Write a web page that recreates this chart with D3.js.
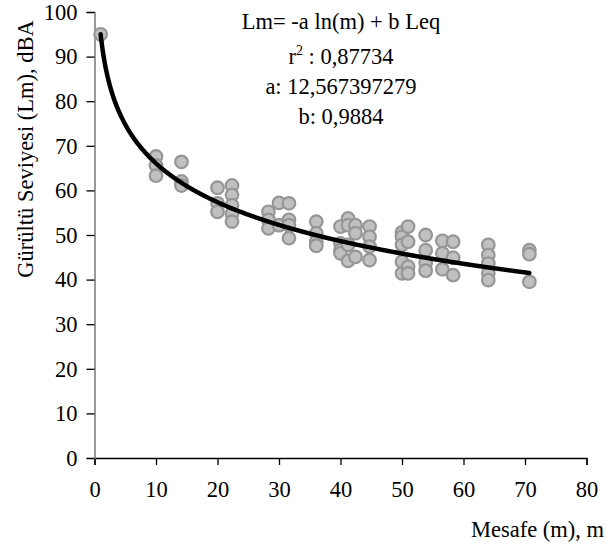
<!DOCTYPE html>
<html>
<head>
<meta charset="utf-8">
<script src="https://cdn.jsdelivr.net/npm/d3@7"></script>
<style>
  body { margin: 0; background: #fff; }
  text { font-family: "Liberation Serif", "Times New Roman", serif; fill: #000; }
</style>
</head>
<body>
<div id="canvas"></div>
<script>
"use strict";

/* Data: distance (m) and level (dBA) */
let distances = [1, 10, 10, 10, 14.14, 14.14, 14.14,
  20, 20, 20, 22.36, 22.36, 22.36, 22.36, 22.36,
  28.28, 28.28, 28.28, 30, 30, 31.62, 31.62, 31.62, 31.62,
  36.06, 36.06, 36.06, 36.06,
  40, 40, 40, 40, 41.23, 41.23, 41.23, 41.23,
  42.43, 42.43, 42.43, 44.72, 44.72, 44.72, 44.72,
  50, 50, 50, 50, 50, 50.99, 50.99, 50.99, 50.99,
  53.85, 53.85, 53.85, 53.85, 56.57, 56.57, 56.57,
  58.31, 58.31, 58.31, 64.03, 64.03, 64.03, 64.03, 64.03,
  70.71, 70.71, 70.71];
let levels = [95, 67.6, 65.6, 63.3, 66.4, 62.0, 61.1,
  60.6, 57.1, 55.2, 61.1, 59.0, 56.7, 54.7, 53.0,
  55.2, 53.4, 51.5, 57.2, 52.2, 57.1, 53.4, 52.2, 49.3,
  53.0, 50.4, 48.5, 47.6,
  51.9, 48.1, 46.6, 45.9, 53.7, 52.2, 47.8, 44.2,
  52.2, 50.4, 45.1, 51.9, 49.6, 47.4, 44.4,
  50.6, 49.6, 47.8, 44.0, 41.4, 51.9, 48.5, 42.9, 41.4,
  50.0, 46.6, 43.8, 42.0, 48.7, 45.9, 42.3,
  48.5, 44.9, 41.0, 47.8, 45.5, 43.6, 41.4, 39.9,
  46.6, 45.7, 39.5];

/* Fit: Lm = -a ln(m) + b Leq */
let coefA = 12.567397279;
let bLeq = 95;
let fitRange = [1, 70.71];

let xTicks = [0, 10, 20, 30, 40, 50, 60, 70, 80];
let yTicks = [0, 10, 20, 30, 40, 50, 60, 70, 80, 90, 100];
let noteLines = ["Lm= -a ln(m) + b Leq", "r2 : 0,87734", "a: 12,567397279", "b: 0,9884"];

/* SVG setup */
let svgWidth = 606;
let svgHeight = 547;
let fontSize = "22.5px";

let svg = d3.select("#canvas")
  .append("svg")
  .attr("width", svgWidth)
  .attr("height", svgHeight);

let xScale = d3.scaleLinear().domain([0, 80]).range([94.5, 586.5]);
let yScale = d3.scaleLinear().domain([0, 100]).range([458, 12]);

/* Axes */
let xAxis = svg.append("g")
  .attr("transform", "translate(0," + yScale(0) + ")")
  .call(d3.axisBottom(xScale).tickValues(xTicks).tickSize(7).tickPadding(16).tickFormat(d3.format("d")));
xAxis.select(".domain").attr("stroke", "#000").attr("stroke-width", 1.3);
xAxis.selectAll(".tick line").attr("stroke", "#000").attr("stroke-width", 1.3);
xAxis.selectAll("text").style("font-size", fontSize).style("font-family", "Liberation Serif");

let yAxis = svg.append("g")
  .attr("transform", "translate(" + xScale(0) + ",0)")
  .call(d3.axisLeft(yScale).tickValues(yTicks).tickSize(8).tickPadding(9).tickFormat(d3.format("d")));
yAxis.select(".domain").attr("stroke", "#808080").attr("stroke-width", 1.6);
yAxis.selectAll(".tick line").attr("stroke", "#000").attr("stroke-width", 1.3);
yAxis.selectAll("text").style("font-size", fontSize).style("font-family", "Liberation Serif");

/* Points */
let points = distances.map(function (d, i) { return { m: d, lm: levels[i] }; });
svg.append("g")
  .selectAll("circle")
  .data(points)
  .join("circle")
  .attr("cx", d => xScale(d.m))
  .attr("cy", d => yScale(d.lm))
  .attr("r", 6.3)
  .attr("fill", "#c0c0c0")
  .attr("stroke", "#969696")
  .attr("stroke-width", 2.2);

/* Fitted curve */
let curveData = d3.range(fitRange[0], fitRange[1], 0.1).concat([fitRange[1]]);
let line = d3.line()
  .x(d => xScale(d))
  .y(d => yScale(-coefA * Math.log(d) + bLeq));
svg.append("path")
  .datum(curveData)
  .attr("fill", "none")
  .attr("stroke", "#000")
  .attr("stroke-width", 4.5)
  .attr("stroke-linecap", "round")
  .attr("d", line);

/* Equation note */
let noteX = 341;
let note = svg.append("g").attr("text-anchor", "middle").style("font-size", fontSize);
note.append("text").attr("x", noteX).attr("y", 29).text(noteLines[0]);
let r2 = note.append("text").attr("x", noteX).attr("y", 64);
r2.append("tspan").text("r");
r2.append("tspan").attr("dy", -9).style("font-size", "14px").text("2");
r2.append("tspan").attr("dy", 9).text(noteLines[1].slice(2));
note.append("text").attr("x", noteX).attr("y", 94).text(noteLines[2]);
note.append("text").attr("x", noteX).attr("y", 124).text(noteLines[3]);

/* Axis titles */
svg.append("text")
  .attr("x", 604)
  .attr("y", 537)
  .attr("text-anchor", "end")
  .style("font-size", fontSize)
  .text("Mesafe (m), m");

svg.append("text")
  .attr("transform", "rotate(-90)")
  .attr("x", -149)
  .attr("y", 33)
  .attr("text-anchor", "middle")
  .style("font-size", fontSize)
  .text("Gürültü Seviyesi (Lm), dBA");
</script>
</body>
</html>
